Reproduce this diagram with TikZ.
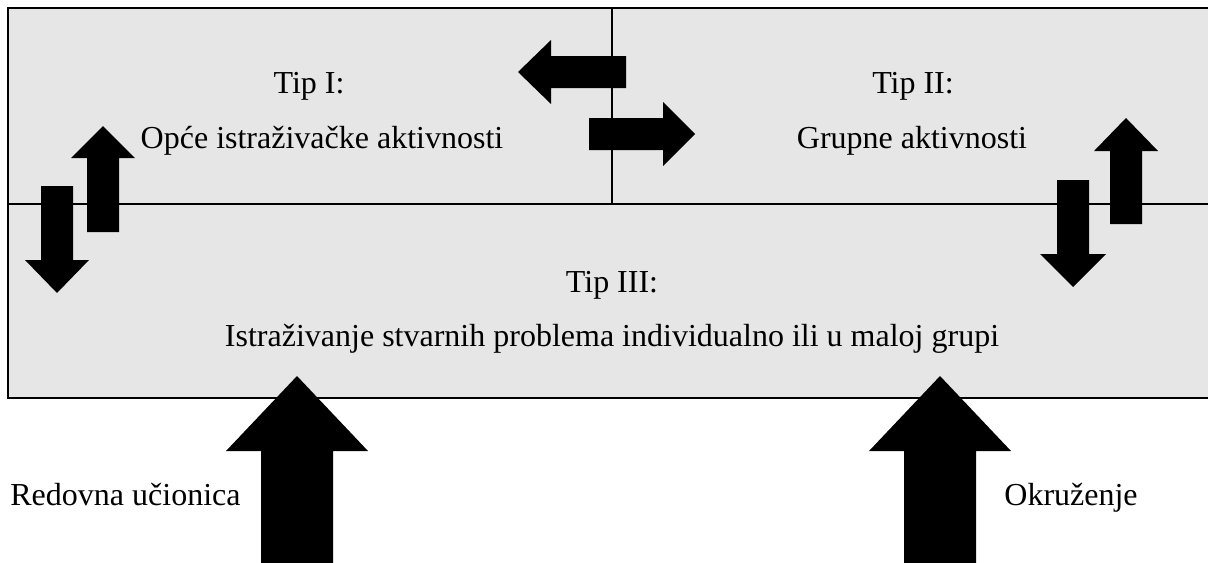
\documentclass[tikz,border=0pt]{standalone}
\usepackage{fontspec}
\setmainfont{Liberation Serif}
\usepackage{xcolor}
\definecolor{boxgray}{HTML}{E6E6E6}

\begin{document}
\begin{tikzpicture}[x=0.5pt, y=-0.5pt,
                    label/.style={font=\fontsize{16}{19}\selectfont, inner sep=0pt, anchor=base},
                    frame/.style={line width=1pt},
                    pics/blockarrow/.style n args={4}{code={
                      \fill (0,0) -- (#2,#3) -- (#1,#3) -- (#1,#4) -- (-#1,#4) -- (-#1,#3) -- (-#2,#3) -- cycle;
                    }}]
  \useasboundingbox (0,0) rectangle (1208,562);
  \fill[boxgray] (8,8) rectangle (1208,398);
  \draw[frame] (1208,8) -- (8,8) -- (8,398) -- (1208,398);
  \draw[frame] (8,204) -- (1208,204);
  \draw[line width=0.8pt] (612,8) -- (612,204);

  \node[label] (tip1) at (309,93) {Tip I:};
  \node[label] (opce) at (322,148) {Opće istraživačke aktivnosti};
  \node[label] (tip2) at (913,93) {Tip II:};
  \node[label] (grupne) at (912,148) {Grupne aktivnosti};
  \node[label] (tip3) at (612,292) {Tip III:};
  \node[label] (istr) at (612,346) {Istraživanje stvarnih problema individualno ili u maloj grupi};
  \node[label, anchor=base west] (redovna) at (10,505) {Redovna učionica};
  \node[label, anchor=base west] (okruzenje) at (1004,505) {Okruženje};

  \pic[rotate=90] at (518,72) {blockarrow={16}{32}{33}{108}};
  \pic[rotate=-90] at (695,134) {blockarrow={16}{32}{32}{106}};
  \pic at (103,126) {blockarrow={16}{32}{32}{106}};
  \pic[rotate=180] at (57,293) {blockarrow={16}{32}{33}{107}};
  \pic at (1126,118) {blockarrow={16}{32}{33}{106}};
  \pic[rotate=180] at (1073,287) {blockarrow={16}{33}{33}{107}};
  \pic at (297,376) {blockarrow={36}{71}{75}{190}};
  \pic at (940,376) {blockarrow={36}{71}{75}{190}};
\end{tikzpicture}
\end{document}
